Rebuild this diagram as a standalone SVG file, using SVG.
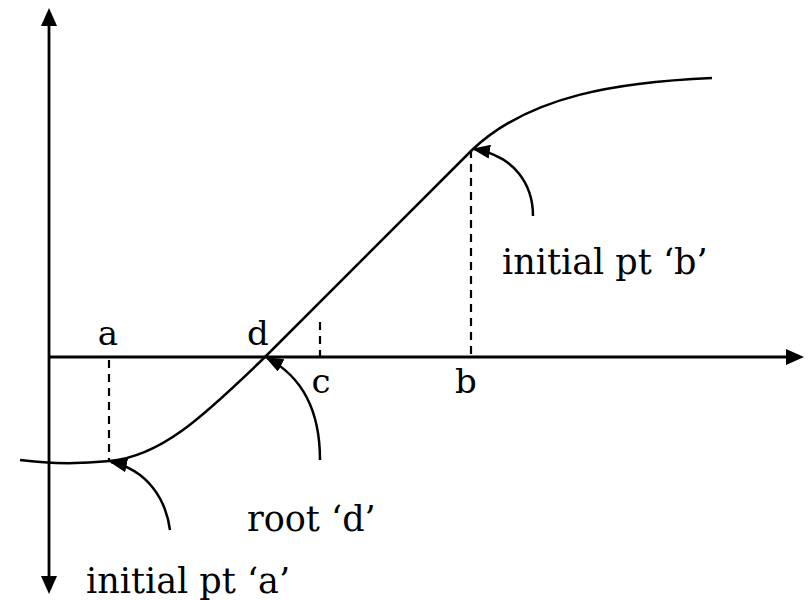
<svg xmlns="http://www.w3.org/2000/svg" width="808" height="600" viewBox="0 0 808 600">
<style>
.ax{stroke:#000;stroke-width:2.8;fill:none}
.cv{stroke:#000;stroke-width:2.5;fill:none}
.ds{stroke:#000;stroke-width:2.2;stroke-dasharray:8 6;fill:none}
.lb{font-family:"DejaVu Serif","Liberation Serif",serif;font-size:34px;fill:#000}
.lt{font-family:"DejaVu Serif","Liberation Serif",serif;font-size:35px;fill:#000}
</style>
<defs>
<marker id="ah" markerWidth="18" markerHeight="14" refX="16" refY="7" orient="auto" markerUnits="userSpaceOnUse">
<path d="M0,0 L18,7 L0,14 Z" fill="#000"/>
</marker>
</defs>
<g id="axes">
<line class="ax" x1="49" y1="578" x2="49" y2="24"/>
<polygon points="49,8 41,26 57,26" fill="#000"/>
<polygon points="49,594 41,576 57,576" fill="#000"/>
<line class="ax" x1="49" y1="357" x2="788" y2="357"/>
<polygon points="804,357 786,349 786,365" fill="#000"/>
</g>
<g id="curve">
<path class="cv" d="M20,460 C50,464 80,464 110,461 C160,456 200,420 265,357 L472,150 C530,95 620,82 712,78"/>
</g>
<g id="connectors">
<line class="ds" x1="109" y1="360" x2="109" y2="460"/>
<line class="ds" x1="320" y1="322" x2="320" y2="356"/>
<line class="ds" x1="471" y1="150" x2="471" y2="356"/>
<path class="cv" marker-end="url(#ah)" d="M533,216 C533,185 515,156 474,149"/>
<path class="cv" marker-end="url(#ah)" d="M320,460 C320,415 305,378 267,358"/>
<path class="cv" marker-end="url(#ah)" d="M170,530 C166,500 148,470 111,462"/>
</g>
<g id="labels">
<text class="lb" x="108" y="345" text-anchor="middle">a</text>
<text class="lb" x="258" y="345" text-anchor="middle">d</text>
<text class="lb" x="321" y="393" text-anchor="middle">c</text>
<text class="lb" x="466" y="393" text-anchor="middle">b</text>
<text class="lt" x="502" y="274">initial pt ‘b’</text>
<text class="lt" x="247" y="531">root ‘d’</text>
<text class="lt" x="86" y="593">initial pt ‘a’</text>
</g>
</svg>
